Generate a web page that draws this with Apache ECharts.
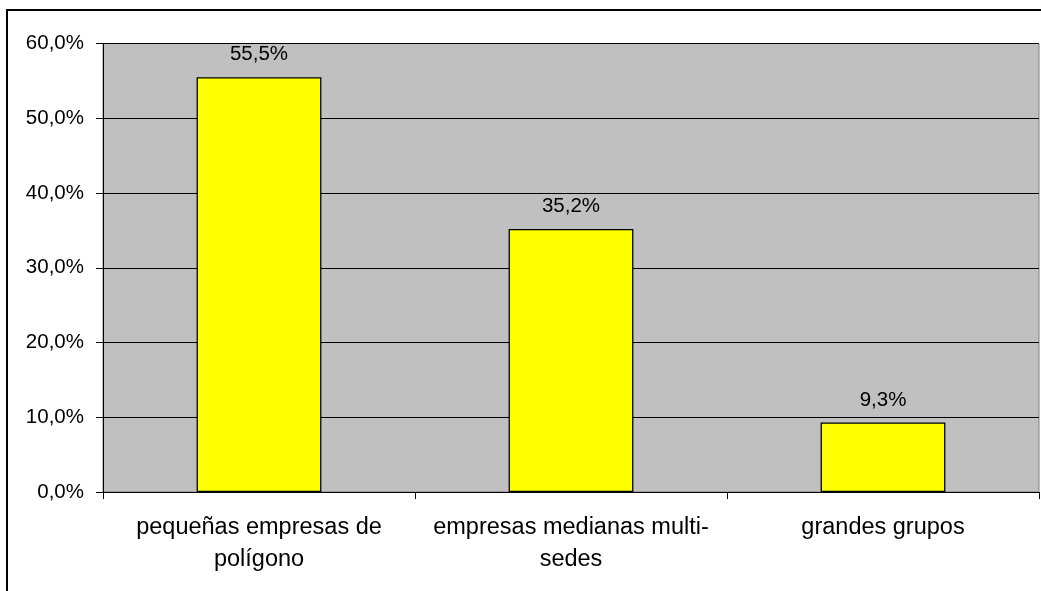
<!DOCTYPE html>
<html>
<head>
<meta charset="utf-8">
<script src="https://cdn.jsdelivr.net/npm/echarts@6/dist/echarts.min.js"></script>
<style>
  html, body { margin: 0; padding: 0; background: #fff; }
  #chart { width: 1041px; height: 591px; }
</style>
</head>
<body>
<div id="chart"></div>
<script>
// Company types and their share (%)
const categories = [
  'pequeñas empresas de\npolígono',
  'empresas medianas multi-\nsedes',
  'grandes grupos'
];
const shares = [55.5, 35.2, 9.3];
const yTicks = { min: 0, max: 60, step: 10 };

const fmtPct = v => v.toFixed(1).replace('.', ',') + '%';
const FONT = '"Liberation Sans", Arial, sans-serif';

const chart = echarts.init(document.getElementById('chart'), null, { renderer: 'canvas' });
chart.setOption({
  animation: false,
  backgroundColor: '#ffffff',
  graphic: [{
    type: 'rect',
    shape: { x: 7, y: 10, width: 1060, height: 600 },
    style: { fill: 'none', stroke: '#000', lineWidth: 2 },
    silent: true,
    z: -10
  }],
  grid: {
    left: 103, top: 43.5, right: 2, bottom: 99,
    show: true,
    backgroundColor: '#C0C0C0',
    borderColor: '#808080',
    borderWidth: 1
  },
  xAxis: {
    type: 'category',
    data: categories,
    axisLine: { show: true, lineStyle: { color: '#000', width: 1 } },
    axisTick: { show: true, alignWithLabel: false, length: 7, lineStyle: { color: '#000' } },
    axisLabel: {
      color: '#000', fontFamily: FONT, fontSize: 23.5, lineHeight: 32,
      margin: 20, interval: 0, align: 'center'
    },
    splitLine: { show: false }
  },
  yAxis: {
    type: 'value',
    min: yTicks.min, max: yTicks.max, interval: yTicks.step,
    axisLine: { show: true, lineStyle: { color: '#000', width: 1 } },
    axisTick: { show: true, length: 7, lineStyle: { color: '#000' } },
    axisLabel: {
      color: '#000', fontFamily: FONT, fontSize: 20.5, margin: 19,
      formatter: fmtPct
    },
    splitLine: { show: true, lineStyle: { color: '#000', width: 1 } }
  },
  series: [{
    type: 'bar',
    data: shares,
    barCategoryGap: '60%',
    itemStyle: { color: '#FFFF00', borderColor: '#000', borderWidth: 1.3 },
    label: {
      show: true, position: 'top', distance: 12,
      color: '#000', fontFamily: FONT, fontSize: 20.5,
      formatter: p => fmtPct(p.value)
    }
  }]
});
</script>
</body>
</html>
